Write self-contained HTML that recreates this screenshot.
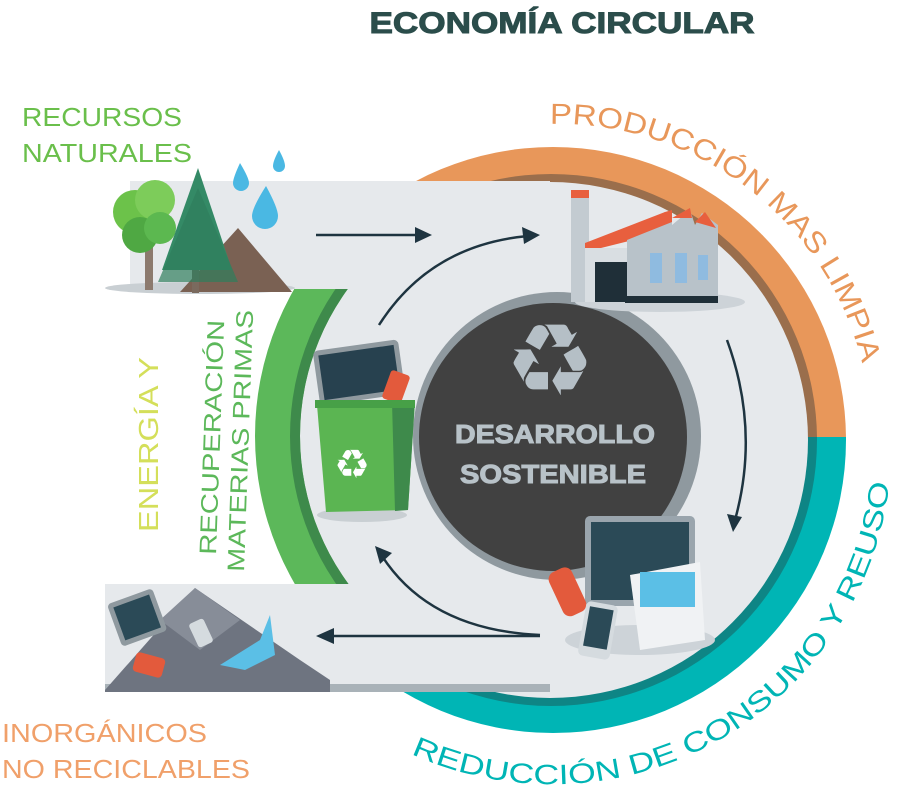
<!DOCTYPE html>
<html><head><meta charset="utf-8"><style>
html,body{margin:0;padding:0;background:#fff;}
svg{display:block;}
text{font-family:"Liberation Sans",sans-serif;}
</style></head><body>
<svg width="897" height="795" viewBox="0 0 897 795" xmlns="http://www.w3.org/2000/svg">
<defs>
<clipPath id="top"><rect x="0" y="0" width="897" height="437"/></clipPath>
<clipPath id="bot"><rect x="0" y="437" width="897" height="400"/></clipPath>
<clipPath id="mid"><rect x="0" y="289" width="897" height="295"/></clipPath>
<path id="p1" d="M 550 124 A 314 314 0 0 1 871 430"/>
<path id="p2" d="M 393 745 A 340 340 0 0 0 888 395"/>
</defs>

<text x="562" y="33" text-anchor="middle" font-size="30" font-weight="bold" fill="#2b4d4b" textLength="385" lengthAdjust="spacingAndGlyphs" stroke="#2b4d4b" stroke-width="1">ECONOMÍA CIRCULAR</text>

<circle cx="553" cy="440" r="293" fill="#e8975a" clip-path="url(#top)"/>
<circle cx="553" cy="440" r="293" fill="#00b5b5" clip-path="url(#bot)"/>
<circle cx="551" cy="440" r="266" fill="#9a6e4c" clip-path="url(#top)"/>
<circle cx="551" cy="440" r="266" fill="#0e8585" clip-path="url(#bot)"/>

<circle cx="550" cy="440" r="258" fill="#e6e9ec"/>
<rect x="130" y="181" width="420" height="108" fill="#e6e9ec"/>
<rect x="105" y="584" width="445" height="108" fill="#e6e9ec"/>
<rect x="105" y="684" width="445" height="8" fill="#a9b2b8"/>
<rect x="0" y="289" width="300" height="295" fill="#fff"/>
<circle cx="550" cy="436" r="255" fill="#e6e9ec" clip-path="url(#mid)"/>
<g clip-path="url(#mid)">
<path d="M 550 141 A 295 295 0 0 0 550 731 L 550 686 A 250 250 0 0 1 550 186 Z" fill="#5cb85a"/>
<path d="M 550 176 A 260 260 0 0 0 550 696 L 550 686 A 250 250 0 0 1 550 186 Z" fill="#3e8a4b"/>
</g>

<circle cx="557" cy="436" r="144" fill="#8f999f"/>
<circle cx="553" cy="437" r="134" fill="#414141"/>
<text x="550" y="395" text-anchor="middle" font-family="DejaVu Sans" font-size="100" fill="#b5bfc6">♻</text>
<text x="555" y="443" text-anchor="middle" font-size="26" font-weight="bold" fill="#b8c2c8" stroke="#b8c2c8" stroke-width="1" textLength="200" lengthAdjust="spacingAndGlyphs">DESARROLLO</text>
<text x="553" y="483" text-anchor="middle" font-size="26" font-weight="bold" fill="#b8c2c8" stroke="#b8c2c8" stroke-width="1" textLength="186" lengthAdjust="spacingAndGlyphs">SOSTENIBLE</text>

<g stroke="#1e3440" stroke-width="2.5" fill="none">
<line x1="316" y1="235" x2="420" y2="235"/>
<path d="M 379 325 Q 430 245 528 236"/>
<path d="M 727 340 Q 760 430 735 520"/>
<path d="M 540 635 Q 430 630 382 556"/>
<line x1="540" y1="636" x2="328" y2="636"/>
</g>
<g fill="#1e3440">
<polygon points="432,235 415,227 415,243"/>
<polygon points="540,235 522,227 524,244"/>
<polygon points="733,532 727,514 742,517"/>
<polygon points="375,546 380,564 392,553"/>
<polygon points="316,636 334,628 334,644"/>
</g>

<ellipse cx="200" cy="288" rx="95" ry="6" fill="#c9cfd3"/>
<path d="M 180 292 L 238 228 L 292 292 Z" fill="#7a6153"/>
<rect x="145" y="235" width="8" height="55" fill="#8c7a6e"/>
<circle cx="135" cy="212" r="22" fill="#6cc24a"/>
<circle cx="155" cy="200" r="20" fill="#7dcc5a"/>
<circle cx="140" cy="235" r="18" fill="#4fa843"/>
<circle cx="160" cy="228" r="16" fill="#5cb850"/>
<rect x="192" y="255" width="7" height="38" fill="#7a6a5e"/>
<path d="M 198 168 L 232 270 L 162 270 Z" fill="#348a66"/>
<path d="M 198 188 L 238 282 L 158 282 Z" fill="#2f7d5c" opacity="0.7"/>
<g fill="#4ab8e3">
<path d="M 240 163 Q 233 178 233 183 A 8 8 0 0 0 249 183 Q 249 178 240 163 Z"/>
<path d="M 279 150 Q 273 161 273 166 A 6 6 0 0 0 285 166 Q 285 161 279 150 Z"/>
<path d="M 266 186 Q 252 208 252 216 A 13 13 0 0 0 278 216 Q 278 208 266 186 Z"/>
</g>

<ellipse cx="660" cy="302" rx="85" ry="10" fill="#cdd3d8"/>
<rect x="571" y="196" width="18" height="106" fill="#c3cbd1"/>
<rect x="571" y="190" width="18" height="8" fill="#e85f3e"/>
<polygon points="585,243 665,212 665,232 585,252" fill="#e85f3e"/>
<rect x="585" y="248" width="42" height="54" fill="#d9dee2"/>
<rect x="595" y="262" width="32" height="40" fill="#1f2f38"/>
<polygon points="627,240 665,218 672,218 672,225 690,210 695,225 702,213 718,225 718,302 627,302" fill="#b8c2c9"/>
<polygon points="665,212 672,210 672,222 627,240" fill="#e85f3e"/>
<polygon points="672,218 690,208 692,218" fill="#e85f3e"/>
<polygon points="695,222 705,212 716,228" fill="#e85f3e"/>
<rect x="650" y="253" width="12" height="30" fill="#8fbbe0"/>
<rect x="675" y="253" width="12" height="30" fill="#8fbbe0"/>
<rect x="698" y="255" width="10" height="25" fill="#8fbbe0"/>
<rect x="625" y="296" width="93" height="7" fill="#1f2f38"/>

<ellipse cx="362" cy="515" rx="45" ry="7" fill="#c9cfd3"/>
<rect x="316" y="345" width="86" height="55" rx="5" fill="#8f999f" transform="rotate(-8 359 372)"/>
<rect x="321" y="350" width="76" height="45" fill="#27414f" transform="rotate(-8 359 372)"/>
<rect x="386" y="372" width="20" height="30" rx="3" fill="#e35a3c" transform="rotate(20 396 387)"/>
<polygon points="317,405 415,400 408,510 326,512" fill="#5bb552"/>
<polygon points="392,402 415,400 408,510 395,511" fill="#3e8a4b"/>
<rect x="315" y="400" width="100" height="8" fill="#47a047"/>
<text x="352" y="478" text-anchor="middle" font-family="DejaVu Sans" font-size="40" fill="#fff">♻</text>

<ellipse cx="640" cy="640" rx="75" ry="15" fill="#cdd3d8"/>
<rect x="585" y="516" width="110" height="90" rx="5" fill="#9aa5ad"/>
<rect x="591" y="522" width="98" height="78" fill="#2b4a57"/>
<polygon points="630,575 700,562 705,640 640,650" fill="#f0f2f4"/>
<rect x="640" y="572" width="55" height="35" fill="#5bbfe6"/>
<rect x="555" y="568" width="25" height="48" rx="8" fill="#e35a3c" transform="rotate(-25 567 592)"/>
<rect x="582" y="603" width="32" height="55" rx="5" fill="#d5dbdf" transform="rotate(10 598 630)"/>
<rect x="586" y="608" width="24" height="40" fill="#2b4a57" transform="rotate(10 598 630)"/>

<polygon points="105,690 195,588 300,660 330,680 330,692 105,692" fill="#6e7480"/>
<polygon points="160,620 195,588 240,620 200,650" fill="#878d98"/>
<rect x="113" y="595" width="48" height="45" rx="4" fill="#8f999f" transform="rotate(-20 137 617)"/>
<rect x="118" y="600" width="38" height="35" fill="#2b4a57" transform="rotate(-20 137 617)"/>
<rect x="134" y="655" width="30" height="20" rx="4" fill="#e35a3c" transform="rotate(15 149 665)"/>
<polygon points="220,665 260,640 270,615 275,655 245,670" fill="#5bbfe6"/>
<rect x="193" y="620" width="16" height="26" rx="3" fill="#d5dbdf" transform="rotate(-25 201 633)"/>

<text x="22" y="126" font-size="26" fill="#6abf4b" textLength="160" lengthAdjust="spacingAndGlyphs">RECURSOS</text>
<text x="22" y="162" font-size="26" fill="#6abf4b" textLength="170" lengthAdjust="spacingAndGlyphs">NATURALES</text>
<text x="2" y="742" font-size="26" fill="#f0a06a" textLength="205" lengthAdjust="spacingAndGlyphs">INORGÁNICOS</text>
<text x="2" y="778" font-size="26" fill="#f0a06a" textLength="248" lengthAdjust="spacingAndGlyphs">NO RECICLABLES</text>
<text transform="translate(158 532) rotate(-90)" font-size="28" fill="#d4df5a" textLength="175" lengthAdjust="spacingAndGlyphs">ENERGÍA Y</text>
<text transform="translate(216 555) rotate(-88)" font-size="24" fill="#5cb85a" textLength="235" lengthAdjust="spacingAndGlyphs">RECUPERACIÓN</text>
<text transform="translate(244 572) rotate(-88)" font-size="24" fill="#5cb85a" textLength="262" lengthAdjust="spacingAndGlyphs">MATERIAS PRIMAS</text>

<text font-size="29" fill="#e8975a"><textPath href="#p1" textLength="425" lengthAdjust="spacingAndGlyphs">PRODUCCIÓN MAS LIMPIA</textPath></text>
<text font-size="28" fill="#00b5b5"><textPath href="#p2" textLength="640" lengthAdjust="spacingAndGlyphs" startOffset="20">REDUCCIÓN DE CONSUMO Y REUSO</textPath></text>
</svg>
</body></html>
